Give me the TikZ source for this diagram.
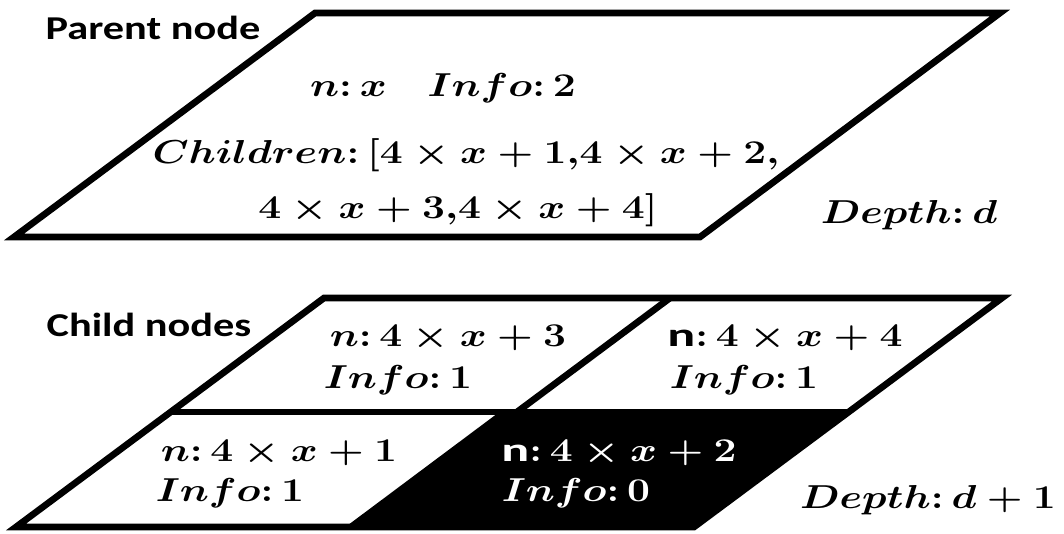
\documentclass[tikz,border=0pt]{standalone}
\usepackage{amsmath}
\usepackage{graphicx}
\usepackage{fontspec}
\setsansfont[FakeStretch=1.27]{Carlito}
\tikzset{
  cell/.style={line width=5pt, line join=miter},
  mtext/.style={font=\fontsize{25}{30}\selectfont\boldmath},
  tag/.style={font=\fontsize{25}{30}\selectfont\sffamily\bfseries},
}
\newcommand{\sfn}{\textsf{\textbf{n}}}
\newcommand{\wide}[1]{\scalebox{1.23}[1]{#1}}
\begin{document}
\begin{tikzpicture}[x=0.75pt,y=0.75pt]
\useasboundingbox (0,0) rectangle (1064,534);
% parent node, depth d
\draw[cell] (14,297) -- (700,297) -- (1000,521) -- (315,521) -- cycle;
\node[tag] (ptag) at (153,506) {Parent node};
\node[mtext] (pinfo) at (443,446) {\wide{$n{:}\,x\quad Info{:}\,2$}};
\node[mtext] (pkids) at (466,379) {\wide{$Children{:}\,[4\times x+1{,}4\times x+2,$}};
\node[mtext] (pkidsb) at (458,324) {\wide{$4\times x+3{,}4\times x+4]$}};
\node[mtext] (pdepth) at (909,319) {\wide{$Depth{:}\,d$}};

% child nodes, depth d+1
\fill (505,122) -- (848,122) -- (694,7) -- (351,7) -- cycle;
\draw[cell] (16,7) -- (694,7) -- (1002,236) -- (324,236) -- cycle;
\draw[cell] (170,122) -- (848,122);
\draw[cell] (670,236) -- (517,122);
\draw[cell] (505,122) -- (351,7);
\node[tag] (ctag) at (149,209) {Child nodes};
\node[mtext] (cthree) at (448,196) {\wide{$n{:}\,4\times x+3$}};
\node[mtext] (cthreei) at (398,154) {\wide{$Info{:}\,1$}};
\node[mtext] (cfour) at (785,196) {\wide{$\sfn{:}\,4\times x+4$}};
\node[mtext] (cfouri) at (744,154) {\wide{$Info{:}\,1$}};
\node[mtext] (cone) at (279,81) {\wide{$n{:}\,4\times x+1$}};
\node[mtext] (conei) at (230,41) {\wide{$Info{:}\,1$}};
\node[mtext, text=white] (ctwo) at (619,81) {\wide{$\sfn{:}\,4\times x+2$}};
\node[mtext, text=white] (ctwoi) at (576,41) {\wide{$Info{:}\,0$}};
\node[mtext] (cdepth) at (928,34) {\wide{$Depth{:}\,d+1$}};
\end{tikzpicture}
\end{document}
